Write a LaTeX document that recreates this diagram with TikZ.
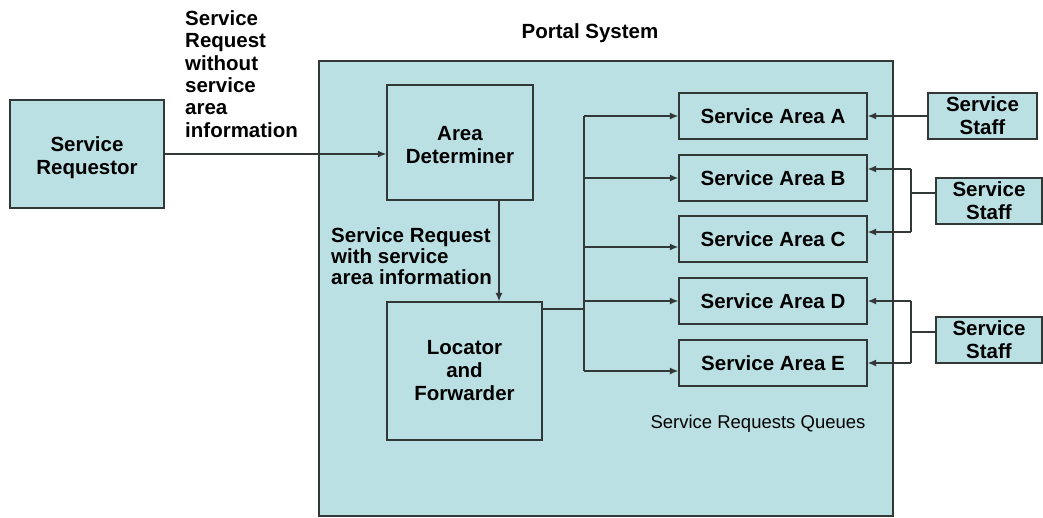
\documentclass[tikz,border=0pt]{standalone}
\usepackage{fontspec}
\setmainfont{Liberation Sans}
\usetikzlibrary{arrows.meta}
\definecolor{boxfill}{RGB}{187,224,227}
\definecolor{edge}{RGB}{50,55,55}
\tikzset{
  box/.style={draw=edge, line width=1.4pt, fill=boxfill, inner sep=0pt,
    align=center, font=\fontsize{20.5}{23}\selectfont\bfseries},
  area/.style={box, minimum width=188pt, minimum height=46pt},
  lbl/.style={inner sep=0pt, align=left, anchor=north west},
  link/.style={draw=edge, line width=1.3pt},
  arr/.style={link, -{Latex[length=8.5pt,width=7pt]}}
}
\begin{document}
\begin{tikzpicture}[x=1pt, y=-1pt]
\useasboundingbox (0,0) rectangle (1043,517);

% portal container and its title
\node[box, minimum width=574pt, minimum height=455pt] (portal) at (606,288.5) {};
\node[inner sep=0pt, font=\fontsize{20.5}{23}\selectfont\bfseries] (ptitle) at (590,33) {Portal System};

% requestor and the two processing stages
\node[box, minimum width=154pt, minimum height=108pt, text height=46pt] (req) at (87,154) {Service\\Requestor};
\node[box, minimum width=146pt, minimum height=115pt, text height=43pt] (det) at (460,142.5) {Area\\Determiner};
\node[box, minimum width=155pt, minimum height=138pt] (loc) at (464.5,371) {Locator\\and\\Forwarder};

% service area queues
\node[area] (sa) at (773,116) {Service Area A};
\node[area] (sb) at (773,178) {Service Area B};
\node[area] (sc) at (773,239) {Service Area C};
\node[area] (sd) at (773,301) {Service Area D};
\node[area] (se) at (773,363) {Service Area E};
\node[inner sep=0pt, font=\fontsize{18.5}{20}\selectfont] (queues) at (758,424) {Service Requests Queues};

% staff
\node[box, minimum width=109pt, minimum height=46pt] (st1) at (982.5,116) {Service\\Staff};
\node[box, minimum width=106pt, minimum height=46pt] (st2) at (989,201) {Service\\Staff};
\node[box, minimum width=106pt, minimum height=46pt] (st3) at (989,340) {Service\\Staff};

% labels on the request flow
\node[lbl, font=\fontsize{20.5}{22.4}\selectfont\bfseries] (l1) at (185,10.3)
  {Service\\Request\\without\\service\\area\\information};
\node[lbl, font=\fontsize{20.5}{21}\selectfont\bfseries] (l2) at (331,227)
  {Service Request\\with service\\area information};

% request flow
\coordinate (reqout) at (164,154);
\draw[arr] (reqout) -- (reqout -| det.west);
\coordinate (down) at (499,200);
\draw[arr] (down) -- (down |- loc.north);

% forwarder bus to the queues
\coordinate (fwd) at (542,309);
\coordinate (bus) at (584,309);
\coordinate (bt) at (584,116);
\coordinate (bb) at (584,371);
\draw[link] (fwd) -- (bus);
\draw[link] (bt) -- (bb);
\draw[arr] (bt) -- (bt -| sa.west);
\draw[arr] (584,178) coordinate (b2) -- (b2 -| sb.west);
\draw[arr] (584,247) coordinate (b3) -- (b3 -| sc.west);
\draw[arr] (584,301) coordinate (b4) -- (b4 -| sd.west);
\draw[arr] (bb) -- (bb -| se.west);

% staff to queues
\draw[arr] (st1.west) -- (st1.west -| sa.east);
\coordinate (k2) at (911,193);
\coordinate (k2t) at (911,169);
\coordinate (k2b) at (911,232);
\draw[link] (st2.west |- k2) -- (k2);
\draw[link] (k2t) -- (k2b);
\draw[arr] (k2t) -- (k2t -| sb.east);
\draw[arr] (k2b) -- (k2b -| sc.east);
\coordinate (k3) at (911,332);
\coordinate (k3t) at (911,301);
\coordinate (k3b) at (911,363);
\draw[link] (st3.west |- k3) -- (k3);
\draw[link] (k3t) -- (k3b);
\draw[arr] (k3t) -- (k3t -| sd.east);
\draw[arr] (k3b) -- (k3b -| se.east);
\end{tikzpicture}
\end{document}
